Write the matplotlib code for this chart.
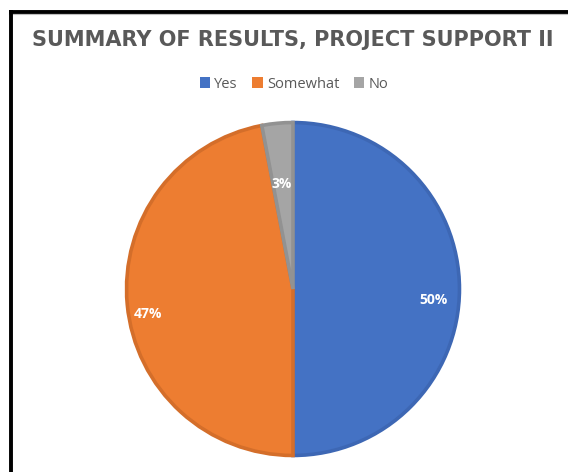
import numpy as np
import matplotlib
matplotlib.use('Agg')
import matplotlib.pyplot as plt
from matplotlib.patches import Patch
from matplotlib.lines import Line2D

categories = ['Yes', 'Somewhat', 'No']
values = [50, 47, 3]
pct_labels = ['50%', '47%', '3%']

colors = ['#4472C4', '#ED7D31', '#A5A5A5']
edge_colors = ['#3D67B4', '#D46E2A', '#929292']
label_dist = [0.83, 0.86, 0.69]

plt.rcParams['font.family'] = ['Open Sans', 'DejaVu Sans']

W, H = 568, 472
fig = plt.figure(figsize=(W / 100, H / 100), dpi=100)
fig.patch.set_facecolor('white')

# pie axes: centre ~ (293, 289) px, radius ~169 px
cx, cy, r = 293, 289, 169
ax = fig.add_axes([(cx - r) / W, (H - cy - r) / H, 2 * r / W, 2 * r / H])
wedges, _ = ax.pie(values, colors=colors, startangle=90, counterclock=False,
                   radius=0.985,
                   wedgeprops=dict(linewidth=2.6, linestyle='-'))
for w, ec in zip(wedges, edge_colors):
    w.set_edgecolor(ec)
    w.set_joinstyle('miter')
ax.set_xlim(-1, 1)
ax.set_ylim(-1, 1)
ax.set_aspect('equal')
ax.axis('off')

for w, lab, d in zip(wedges, pct_labels, label_dist):
    mid = np.deg2rad((w.theta1 + w.theta2) / 2)
    ax.text(d * np.cos(mid), d * np.sin(mid) - 0.065, lab, color='white',
            fontsize=10, fontweight='bold', ha='center', va='center')

fig.text(293 / W, 1 - 40 / H, 'SUMMARY OF RESULTS, PROJECT SUPPORT II',
         ha='center', va='center', fontsize=15, fontweight='bold', color='#595959',
         family='DejaVu Sans')

handles = [Patch(facecolor=c, edgecolor='none') for c in colors]
fig.legend(handles, categories, loc='center', bbox_to_anchor=(294 / W, 1 - 84 / H),
           ncol=3, frameon=False, fontsize=10.5, labelcolor='#595959',
           handlelength=0.7, handleheight=0.7, handletextpad=0.3,
           columnspacing=1.0)

# screenshot border (top and left)
fig.add_artist(Line2D([9 / W, 1], [1 - 11.5 / H, 1 - 11.5 / H], color='black',
                      linewidth=2.8, transform=fig.transFigure, solid_capstyle='butt'))
fig.add_artist(Line2D([9 / W, 1], [1 - 14 / H, 1 - 14 / H], color='#BFBFBF',
                      linewidth=0.8, transform=fig.transFigure))
fig.add_artist(Line2D([10.5 / W, 10.5 / W], [0, 1 - 10 / H], color='black',
                      linewidth=2.8, transform=fig.transFigure, solid_capstyle='butt'))

fig.savefig('out.png', dpi=100)
